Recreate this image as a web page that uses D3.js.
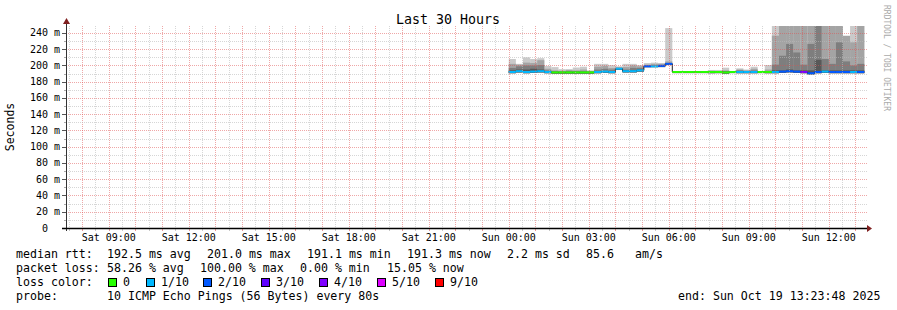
<!DOCTYPE html>
<html lang="en">
<head>
<meta charset="UTF-8">
<title>Last 30 Hours</title>
<script src="https://d3js.org/d3.v7.min.js"></script>
<style>
  body { margin: 0; background: #fff; }
  text { font-family: "DejaVu Sans Mono", monospace; fill: #000; }
  .minor { stroke: rgba(186,186,186,0.6); stroke-dasharray: 1,1; }
  .major { stroke: rgba(224,80,80,0.5); stroke-dasharray: 1,1; }
</style>
</head>
<body>
<svg width="897" height="310"></svg>
<script>
// time frame (UTC used as wall clock)
const endTime = new Date(Date.UTC(2025, 9, 19, 13, 23, 48));
const startTime = new Date(+endTime - 30 * 3600 * 1000);
const binStart = new Date(Date.UTC(2025, 9, 19, 0, 0, 0));
const binMinutes = 16;

// per bin: median rtt (ms), lost pings out of 10, smoke tops (ms)
const median = [192, 193, 192, 192.5, 193, 192, 191.5, 191.5, 191.5, 191.5,
  191.5, 191.5, 192, 192.5, 192, 196, 193, 193, 194, 199,
  199, 199.5, 202, 192, 192, 192, 192, 192, 192, 192,
  191.5, 192, 192, 192, 192, 192, 192, 192, 192.5, 193,
  192.5, 192, 190.5, 192, 192.5, 192, 192, 192, 192, 192];
const loss = [1, 1, 1, 1, 1, 1, 0, 0, 0, 0,
  0, 0, 1, 1, 1, 1, 1, 1, 1, 2,
  1, 2, 2, 0, 0, 0, 0, 0, 0, 0,
  0, 0, 1, 1, 1, 0, 0, 1, 2, 2,
  2, 4, 2, 2, 1, 2, 2, 2, 1, 2];
const smokeMax = [208, 202, 210, 208, 209, 199.5, 198, 195.5, 195.5, 197.5,
  198.5, 194, 202, 202, 200.5, 199, 202, 202, 200.5, 203,
  203.5, 203, 246, 192.5, 192.5, 192.5, 192.5, 192.5, 194.5, 194.5,
  197.3, 192.5, 196.5, 195, 198.5, 193, 200.5, 260, 260, 260,
  260, 260, 260, 260, 260, 260, 260, 236.5, 260, 260];
const smokeP9 = [202, 201, 203.5, 203, 206.5, 196, 194, 193.5, 194.5, 194,
  195, 193, 198.5, 199.5, 197, 198, 198, 200, 199, 201,
  202, 202, 205, 192.5, 192.5, 192.5, 192.5, 192.5, 193.5, 193,
  194, 192.5, 195, 194, 196, 192.5, 195, 236.7, 260, 260,
  260, 260, 260, 260, 260, 260, 260, 236.5, 228.5, 260];
const smokeP8 = [197, 199, 200, 200, 200.5, 194, 193, 192.5, 193, 193,
  193, 192.5, 195, 196, 195, 197, 195, 197, 197, 198,
  199, 200, 203, 192, 192, 192, 192, 192, 193, 192.5,
  193, 192, 194, 193, 194, 192, 193, 201, 212, 226.5,
  216, 201, 226.5, 260, 208, 202, 228.5, 205, 200, 202];
const smokeP7 = [194, 195, 195, 196, 195, 193, 192, 192, 192, 192,
  192, 192, 193, 193, 193, 196.5, 193.5, 194, 195, 196,
  197, 198, 200, 192, 192, 192, 192, 192, 192.5, 192,
  192.5, 192, 193, 192.5, 193, 192, 192.5, 194, 194, 195,
  194, 194, 194, 207, 194, 194, 194, 194, 194, 194];

const lossLevels = [0, 1, 2, 3, 4, 5, 9];
const lossLabels = ["0", "1/10", "2/10", "3/10", "4/10", "5/10", "9/10"];
const lossColors = ["#26ff00", "#00b8ff", "#0059ff", "#5e00ff", "#7e00ff", "#dd00ff", "#ff0000"];
const smokeColors = ["#cacaca", "#a4a4a4", "#7e7e7e", "#585858"];
const yTicks = [0, 20, 40, 60, 80, 100, 120, 140, 160, 180, 200, 220, 240];

const svg = d3.select("svg");
const pLeft = 66, pRight = 866, pTop = 26, pBottom = 228;

const x = d3.scaleUtc().domain([startTime, endTime]).range([pLeft, pRight]);
const y = d3.scaleLinear().domain([0, 248.6]).range([pBottom, pTop]);

const binTime = i => new Date(+binStart + i * binMinutes * 60000);
const lossColor = n => lossColors[d3.bisectRight(lossLevels, n) - 1];

svg.append("defs").append("clipPath").attr("id", "plot")
  .append("rect").attr("x", pLeft).attr("y", pTop)
  .attr("width", pRight - pLeft).attr("height", pBottom - pTop);

const plot = svg.append("g").attr("clip-path", "url(#plot)");

// smoke
const smoke = [smokeMax, smokeP9, smokeP8, smokeP7];
smoke.forEach((arr, k) => {
  plot.append("g").selectAll("rect")
    .data(arr.map((v, i) => ({ i, v })).filter(d => d.v > median[d.i]))
    .join("rect")
    .attr("x", d => x(binTime(d.i)))
    .attr("width", d => x(binTime(d.i + 1)) - x(binTime(d.i)))
    .attr("y", d => y(d.v))
    .attr("height", d => y(median[d.i] - 1.5) - y(d.v))
    .attr("fill", smokeColors[k]);
});

// median
const medPts = median.map((m, i) => [x(binTime(i)), y(m)]);
medPts.push([x(binTime(median.length)), y(median[median.length - 1])]);
plot.append("path")
  .attr("d", d3.line().curve(d3.curveStepAfter)(medPts))
  .attr("fill", "none").attr("stroke", "#202020").attr("stroke-width", 1);

plot.append("g").selectAll("rect")
  .data(median)
  .join("rect")
  .attr("x", (m, i) => x(binTime(i)))
  .attr("width", (m, i) => x(binTime(i + 1)) - x(binTime(i)))
  .attr("y", m => y(m) - 1)
  .attr("height", 2)
  .attr("fill", (m, i) => lossColor(loss[i]));

// grid
const grid = svg.append("g");
const halfHours = d3.utcMinute.every(30).range(startTime, endTime);
grid.selectAll(".v").data(halfHours).join("line")
  .attr("class", d => d.getUTCMinutes() === 0 ? "major" : "minor")
  .attr("x1", d => Math.round(x(d)) + 0.5).attr("x2", d => Math.round(x(d)) + 0.5)
  .attr("y1", pTop).attr("y2", pBottom);
grid.selectAll(".h").data(d3.range(10, 250, 10)).join("line")
  .attr("class", d => d % 20 === 0 ? "major" : "minor")
  .attr("x1", pLeft).attr("x2", pRight + 2)
  .attr("y1", d => Math.round(y(d)) + 0.5).attr("y2", d => Math.round(y(d)) + 0.5);

// x ticks under the axis
grid.selectAll(".xt").data(halfHours).join("line")
  .attr("x1", d => Math.round(x(d)) + 0.5).attr("x2", d => Math.round(x(d)) + 0.5)
  .attr("y1", pBottom + 1).attr("y2", pBottom + 3)
  .attr("stroke", d => d.getUTCMinutes() === 0 ? "rgba(224,80,80,0.6)" : "rgba(186,186,186,0.8)");

// y ticks
grid.selectAll(".yt").data(d3.range(0, 250, 10)).join("line")
  .attr("x1", d => d % 20 === 0 ? pLeft - 4 : pLeft - 2).attr("x2", pLeft)
  .attr("y1", d => Math.round(y(d)) + 0.5).attr("y2", d => Math.round(y(d)) + 0.5)
  .attr("stroke", d => d % 20 === 0 ? "#555" : "#aaa");

// axes
svg.append("line").attr("x1", pLeft + 0.5).attr("x2", pLeft + 0.5)
  .attr("y1", pBottom + 3).attr("y2", 22).attr("stroke", "#333");
svg.append("line").attr("x1", pLeft - 4).attr("x2", pRight + 2)
  .attr("y1", pBottom + 0.5).attr("y2", pBottom + 0.5).attr("stroke", "#000").attr("stroke-width", 1.5);
svg.append("path").attr("d", `M${pLeft - 3},24L${pLeft + 4},24L${pLeft + 0.5},18Z`).attr("fill", "#7f1f1f");
svg.append("path").attr("d", `M${pRight + 1},${pBottom - 3}L${pRight + 1},${pBottom + 4}L${pRight + 6},${pBottom + 0.5}Z`).attr("fill", "#7f1f1f");

// y labels
const yl = svg.append("g").style("font-size", "10px");
yl.selectAll(".n").data(yTicks).join("text")
  .attr("x", 48).attr("y", d => y(d) + 3.5).attr("text-anchor", "end").text(d => d);
yl.selectAll(".u").data(yTicks.filter(d => d > 0)).join("text")
  .attr("x", 54).attr("y", d => y(d) + 3.5).text("m");

// x labels
const xl = svg.append("g").style("font-size", "10px");
xl.selectAll("text").data(d3.utcHour.every(3).range(startTime, endTime)).join("text")
  .attr("x", d => x(d)).attr("y", 241).attr("text-anchor", "middle")
  .text(d3.utcFormat("%a %H:%M"));

// title and side labels
svg.append("text").attr("x", 448).attr("y", 24).attr("text-anchor", "middle")
  .style("font-size", "13.3px").text("Last 30 Hours");
svg.append("text").attr("transform", "translate(14,127) rotate(-90)").attr("text-anchor", "middle")
  .style("font-size", "11.5px").text("Seconds");
svg.append("text").attr("transform", "translate(884,5) rotate(90)")
  .style("font-size", "8px").style("fill", "#aaa").text("RRDTOOL / TOBI OETIKER");

// legend
const lg = svg.append("g").style("font-size", "11.6px");
const put = (tx, px, py) => lg.append("text").attr("x", px).attr("y", py).text(tx);
put("median rtt:", 16, 258);
put("192.5 ms avg", 107, 258);
put("201.0 ms max", 207, 258);
put("191.1 ms min", 307, 258);
put("191.3 ms now", 407, 258);
put("2.2 ms sd", 507, 258);
put("85.6", 586, 258);
put("am/s", 635, 258);
put("packet loss:", 16, 272);
put("58.26 % avg", 107, 272);
put("100.00 % max", 200, 272);
put("0.00 % min", 300, 272);
put("15.05 % now", 387, 272);
put("loss color:", 16, 286);
const boxX = [108, 146, 203, 261, 319, 377, 435];
lossLabels.forEach((lab, i) => {
  lg.append("rect").attr("x", boxX[i] + 0.5).attr("y", 278.5).attr("width", 8).attr("height", 8)
    .attr("fill", lossColors[i]).attr("stroke", "#000");
  put(lab, boxX[i] + 15, 286);
});
put("probe:", 16, 300);
put("10 ICMP Echo Pings (56 Bytes) every 80s", 107, 300);
put("end: Sun Oct 19 13:23:48 2025", 678, 300);
</script>
</body>
</html>
